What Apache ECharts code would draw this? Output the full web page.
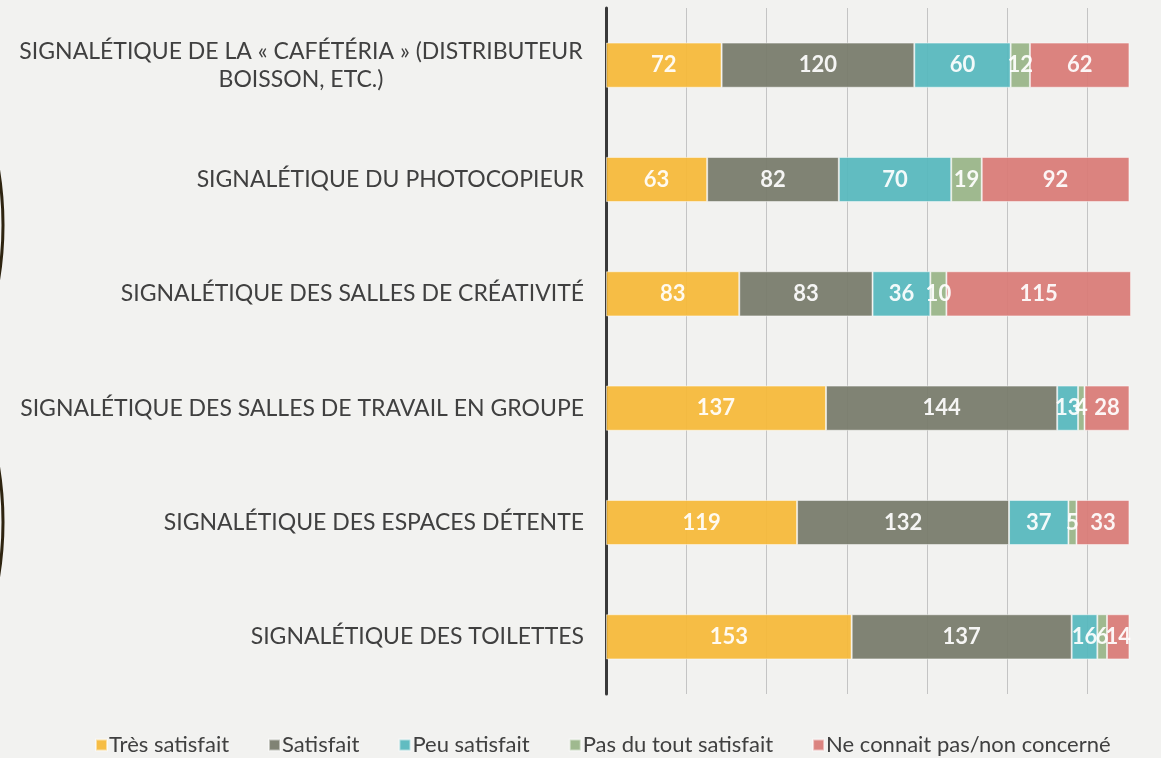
<!DOCTYPE html>
<html>
<head>
<meta charset="utf-8">
<script src="https://cdn.jsdelivr.net/npm/echarts@6/dist/echarts.min.js"></script>
<style>
  html, body { margin: 0; padding: 0; background: #f2f2f0; }
  #chart { width: 1161px; height: 758px; }
</style>
</head>
<body>
<div id="chart"></div>
<script>
const categories = [
  'SIGNALÉTIQUE DE LA « CAFÉTÉRIA » (DISTRIBUTEUR\nBOISSON, ETC.)',
  'SIGNALÉTIQUE DU PHOTOCOPIEUR',
  'SIGNALÉTIQUE DES SALLES DE CRÉATIVITÉ',
  'SIGNALÉTIQUE DES SALLES DE TRAVAIL EN GROUPE',
  'SIGNALÉTIQUE DES ESPACES DÉTENTE',
  'SIGNALÉTIQUE DES TOILETTES'
]
const seriesNames = ['Très satisfait', 'Satisfait', 'Peu satisfait', 'Pas du tout satisfait', 'Ne connait pas/non concerné']
const tresSatisfait = [72, 63, 83, 137, 119, 153]
const satisfait = [120, 82, 83, 144, 132, 137]
const peuSatisfait = [60, 70, 36, 13, 37, 16]
const pasDuTout = [12, 19, 10, 4, 5, 6]
const neConnaitPas = [62, 92, 115, 28, 33, 14]
const colors = ['#f6b936', '#767a69', '#55b7bd', '#98b487', '#d97a75']

const values = [tresSatisfait, satisfait, peuSatisfait, pasDuTout, neConnaitPas]
const font = 'Lato, "Open Sans", sans-serif'

const chart = echarts.init(document.getElementById('chart'))
chart.setOption({
  backgroundColor: '#f2f2f0',
  animation: false,
  grid: { left: 606, top: 8, width: 562, height: 686, containLabel: false, outerBoundsMode: 'none' },
  legend: {
    bottom: -3,
    left: 90,
    icon: 'rect',
    itemWidth: 11,
    itemHeight: 11,
    itemGap: 39,
    textStyle: { fontFamily: font, fontSize: 22, color: '#404040', padding: [0, 0, 0, -3] },
    data: seriesNames
  },
  xAxis: {
    type: 'value',
    min: 0,
    max: 350,
    interval: 50,
    axisLabel: { show: false },
    axisLine: { show: false },
    axisTick: { show: false },
    splitLine: { lineStyle: { color: '#c4c4c4', width: 1 } }
  },
  yAxis: {
    type: 'category',
    inverse: true,
    data: categories,
    axisTick: { show: false },
    axisLine: { lineStyle: { color: '#3a3a3a', width: 3 } },
    axisLabel: {
      fontFamily: font,
      fontSize: 23,
      color: '#404040',
      margin: 22,
      align: 'right',
      lineHeight: 28,
      // multi-line label: lines centred on each other like the original
      formatter: function (v) {
        if (v.indexOf('\n') < 0) return v
        return v.split('\n').map(s => '{c|' + s + '}').join('\n')
      },
      rich: {
        c: { width: 566, align: 'center', fontFamily: font, fontSize: 23, color: '#404040', lineHeight: 28 }
      }
    }
  },
  graphic: [
    { type: 'circle', shape: { cx: -337, cy: 225, r: 340 }, style: { fill: 'none', stroke: '#2e2410', lineWidth: 3 }, silent: true },
    { type: 'circle', shape: { cx: -337, cy: 522, r: 340 }, style: { fill: 'none', stroke: '#2e2410', lineWidth: 3 }, silent: true }
  ],
  series: seriesNames.map((name, i) => ({
    name: name,
    type: 'bar',
    stack: 'total',
    barWidth: '39.5%',
    data: values[i],
    itemStyle: {
      color: colors[i],
      opacity: 0.92,
      borderColor: 'rgba(255,255,255,0.55)',
      borderWidth: 1
    },
    label: {
      show: true,
      position: 'inside',
      color: '#ffffff',
      fontFamily: font,
      fontWeight: 'bold',
      fontSize: 22
    }
  }))
})
</script>
</body>
</html>
